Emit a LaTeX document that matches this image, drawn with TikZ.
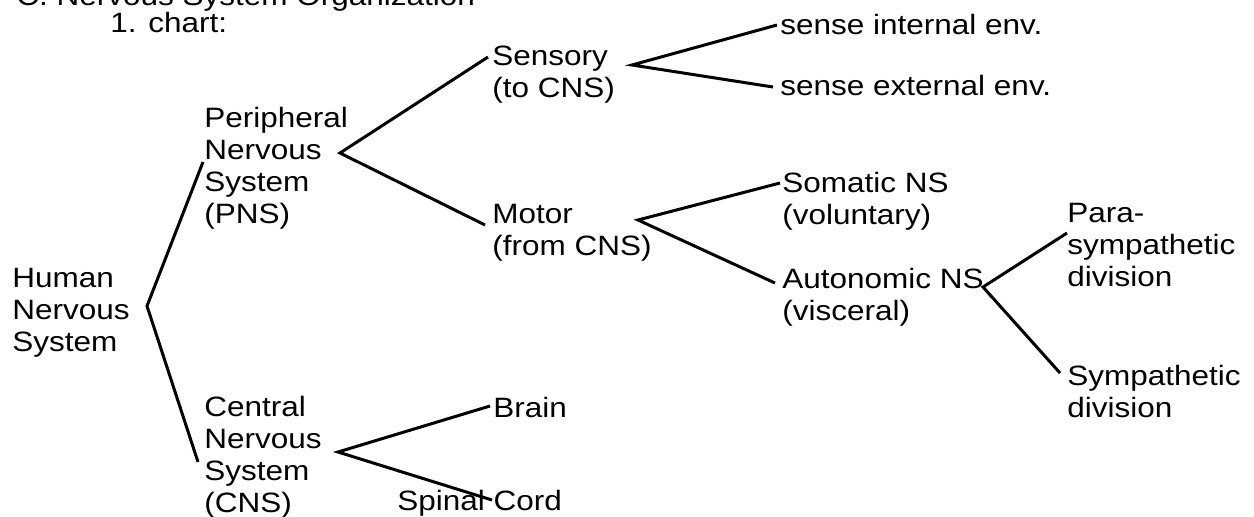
\documentclass[tikz,border=0pt]{standalone}
\usepackage{fontspec}
\setmainfont{Liberation Sans}[FakeStretch=1.125]

\tikzset{
    label text/.style={inner sep=0pt, anchor=base west, align=left, font=\fontsize{14}{15.85}\selectfont},
    branch/.style={black, line width=1.5pt}
}

\begin{document}
\begin{tikzpicture}[x=0.5pt, y=-0.5pt]
\useasboundingbox (0,0) rectangle (1254,516);
\clip (0,0) rectangle (1254,516);

% base west is the baseline of the last line
\node[label text] (heading) at (16, 5) {C. Nervous System Organization};
\node[label text] (chart) at (110, 32) {1. chart:};

\node[label text] (human) at (12, 351) {Human\\Nervous\\System};
\node[label text] (pns) at (204, 223) {Peripheral\\Nervous\\System\\(PNS)};
\node[label text] (cns) at (204, 512) {Central\\Nervous\\System\\(CNS)};
\node[label text] (sensory) at (492, 97) {Sensory\\(to CNS)};
\node[label text] (motor) at (492, 255) {Motor\\(from CNS)};
\node[label text] (internal) at (780, 34) {sense internal env.};
\node[label text] (external) at (780, 95) {sense external env.};
\node[label text] (somatic) at (782, 224) {Somatic NS\\(voluntary)};
\node[label text] (autonomic) at (782, 320) {Autonomic NS\\(visceral)};
\node[label text] (para) at (1067, 286) {Para-\\sympathetic\\division};
\node[label text] (symp) at (1067, 417) {Sympathetic\\division};
\node[label text] (brain) at (493, 417) {Brain};
\node[label text] (spinal) at (397, 510) {Spinal Cord};

\coordinate (humanFork) at (147, 306);
\coordinate (pnsFork) at (340, 153);
\coordinate (cnsFork) at (338, 452);
\coordinate (sensoryFork) at (632, 65);
\coordinate (motorFork) at (638, 220);
\coordinate (autonomicFork) at (983, 287);

\draw[branch] ([shift={(-1,-61)}]pns.base west) -- (humanFork) -- ([shift={(-6,-50)}]cns.base west);
\draw[branch] ([shift={(-4,-40)}]sensory.base west) -- (pnsFork) -- ([shift={(-7,-30)}]motor.base west);
\draw[branch] ([shift={(-3,-9)}]internal.base west) -- (sensoryFork) -- ([shift={(-7,-8)}]external.base west);
\draw[branch] ([shift={(-2,-41)}]somatic.base west) -- (motorFork) -- ([shift={(-7,-37)}]autonomic.base west);
\draw[branch] ([shift={(0,-53)}]para.base west) -- (autonomicFork) -- ([shift={(-7,-44)}]symp.base west);
\draw[branch] ([shift={(-3,-11)}]brain.base west) -- (cnsFork) -- ([shift={(95,-10)}]spinal.base west);

\end{tikzpicture}
\end{document}
